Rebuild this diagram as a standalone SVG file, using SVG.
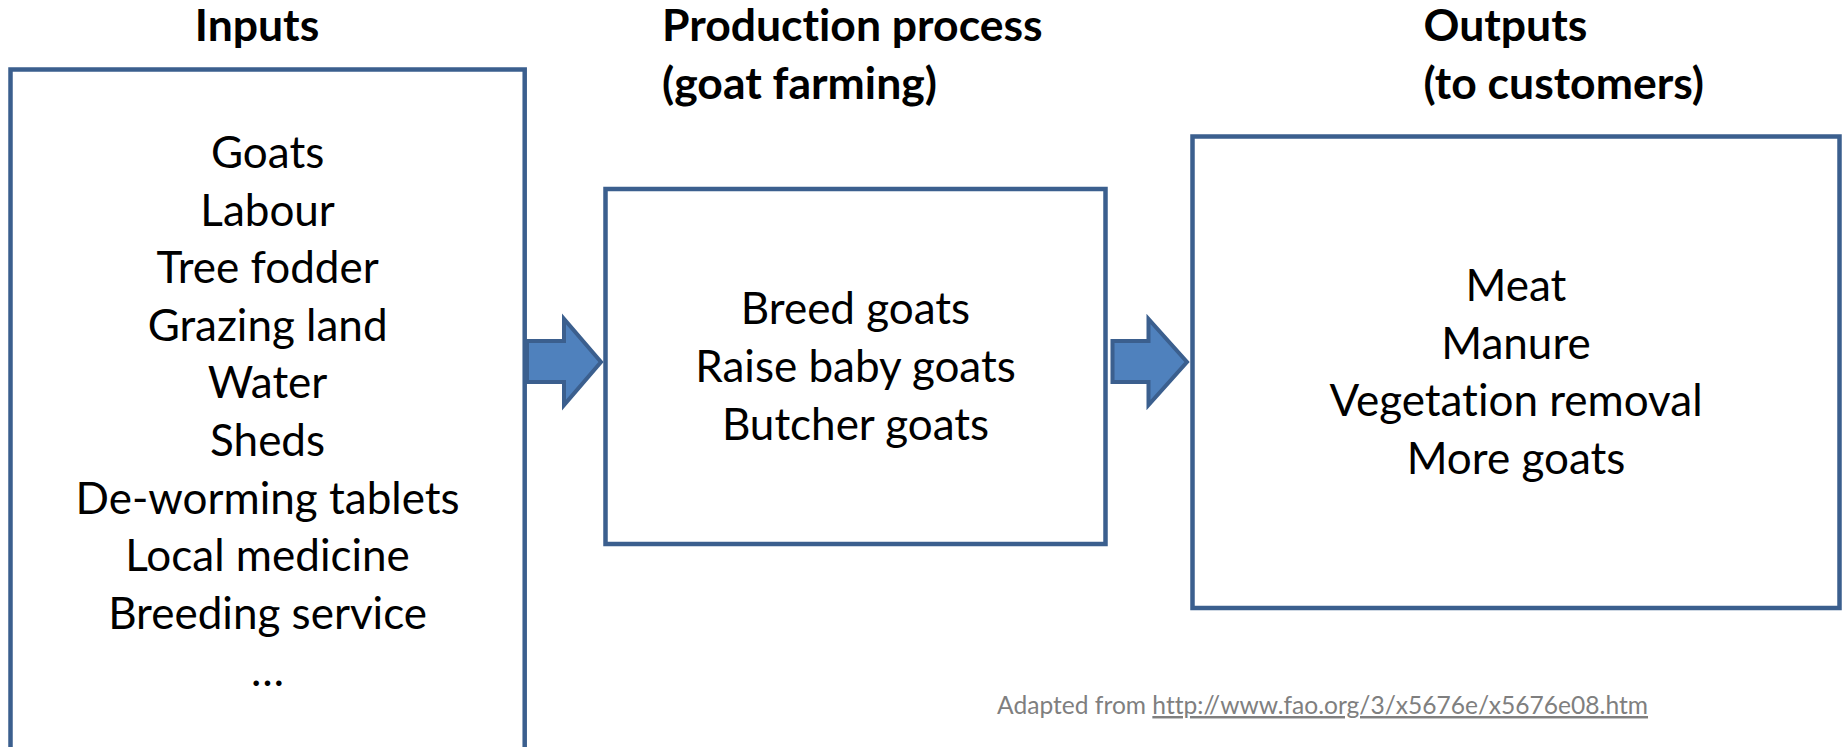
<svg xmlns="http://www.w3.org/2000/svg" width="1843" height="747" viewBox="0 0 1843 747">
  <style>
    text { font-variant-ligatures: none; }
    .box { fill: #ffffff; stroke: #3b5f8e; stroke-width: 4.5; }
    .arrow { fill: #4f81bd; stroke: #3b5f8e; stroke-width: 4; stroke-linejoin: miter; }
    .head { font-family: Lato, "Liberation Sans", sans-serif; font-weight: 700; font-size: 44.5px; fill: #000000; }
    .body { font-family: Lato, "Liberation Sans", sans-serif; font-size: 44px; fill: #000000; text-anchor: middle; }
    .note { font-family: Lato, "Liberation Sans", sans-serif; font-size: 24.6px; fill: #7f7f7f; }
  </style>
  <rect width="1843" height="747" fill="#ffffff"/>

  <!-- column headings -->
  <g id="headings">
    <text class="head" x="257" y="41" text-anchor="middle">Inputs</text>
    <text class="head" x="662" y="41">Production process</text>
    <text class="head" x="662" y="98.6">(goat farming)</text>
    <text class="head" x="1423.5" y="41">Outputs</text>
    <text class="head" x="1423.5" y="98.6">(to customers)</text>
  </g>

  <!-- inputs box (runs past the lower edge) -->
  <g id="inputs">
    <rect class="box" x="10.5" y="69.5" width="514.2" height="720"/>
    <text class="body" x="267.6" y="168">Goats</text>
    <text class="body" x="267.6" y="225.6">Labour</text>
    <text class="body" x="267.6" y="283.2">Tree fodder</text>
    <text class="body" x="267.6" y="340.8">Grazing land</text>
    <text class="body" x="267.6" y="398.4">Water</text>
    <text class="body" x="267.6" y="456">Sheds</text>
    <text class="body" x="267.6" y="513.6">De-worming tablets</text>
    <text class="body" x="267.6" y="571.2">Local medicine</text>
    <text class="body" x="267.6" y="628.8">Breeding service</text>
    <text class="body" x="267.6" y="686.4">…</text>
  </g>

  <!-- production process box -->
  <g id="process">
    <rect class="box" x="605.5" y="189" width="500" height="355"/>
    <text class="body" x="855.5" y="324.4">Breed goats</text>
    <text class="body" x="855.5" y="382">Raise baby goats</text>
    <text class="body" x="855.5" y="439.6">Butcher goats</text>
  </g>

  <!-- outputs box -->
  <g id="outputs">
    <rect class="box" x="1192.5" y="136.5" width="647" height="471.5"/>
    <text class="body" x="1516" y="301">Meat</text>
    <text class="body" x="1516" y="358.6">Manure</text>
    <text class="body" x="1516" y="416.2">Vegetation removal</text>
    <text class="body" x="1516" y="473.8">More goats</text>
  </g>

  <!-- block arrows between the stages -->
  <g id="connectors">
    <polygon class="arrow" points="527,341 564,341 564,319 601,362 564,405 564,382 527,382"/>
    <polygon class="arrow" points="1112.5,341 1148.5,341 1148.5,319 1187,362 1148.5,405 1148.5,382 1112.5,382"/>
  </g>

  <!-- source note -->
  <g id="source">
    <text class="note" x="997" y="714">Adapted from <tspan text-decoration="underline">http://www.fao.org/3/x5676e/x5676e08.htm</tspan></text>
  </g>
</svg>
